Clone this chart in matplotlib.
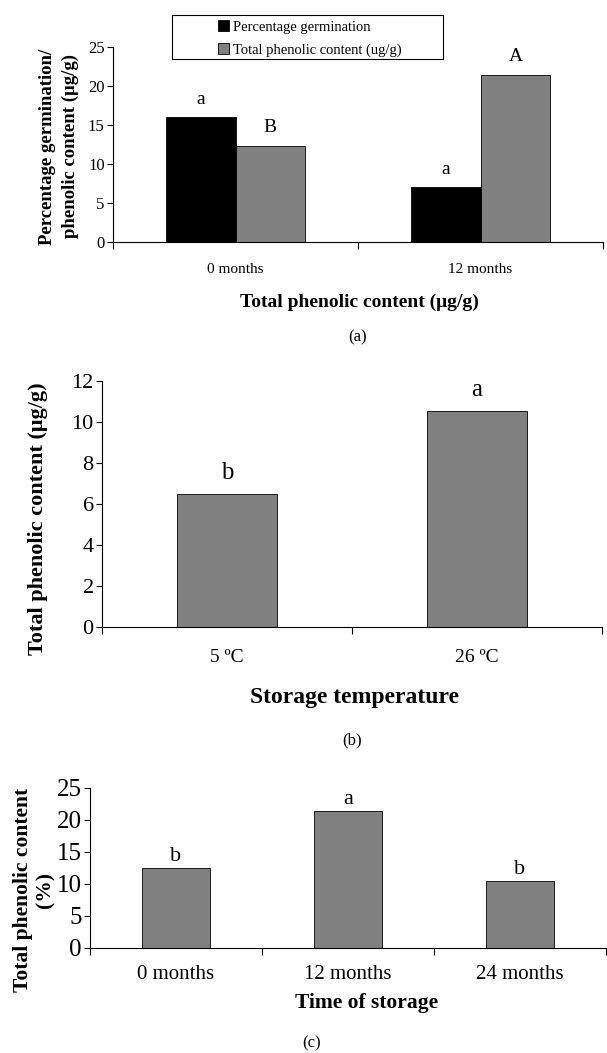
import matplotlib
matplotlib.use("Agg")
import matplotlib.pyplot as plt
import numpy as np
from matplotlib.patches import Patch, Rectangle

plt.rcParams['font.family'] = ['Liberation Serif', 'DejaVu Serif']

# ---- data ----
a_categories = ["0 months", "12 months"]
a_germination = [16.0, 7.0]
a_phenolic = [12.35, 21.45]
a_germ_letters = ["a", "a"]
a_phen_letters = ["B", "A"]
a_series = ["Percentage germination", "Total phenolic content (ug/g)"]

b_categories = ["5 ºC", "26 ºC"]
b_values = [6.5, 10.55]
b_letters = ["b", "a"]

c_categories = ["0 months", "12 months", "24 months"]
c_values = [12.45, 21.45, 10.45]
c_letters = ["b", "a", "b"]

W, H = 607, 1053
fig = plt.figure(figsize=(W / 100, H / 100), dpi=100)
GRAY = "#808080"


def add_ax(l, r, t, b):
    return fig.add_axes([l / W, 1 - b / H, (r - l) / W, (b - t) / H])


def style(ax, n, ylim, yticks, yfs, xfs, xpad):
    ax.set_xlim(-0.5, n - 0.5)
    ax.set_ylim(*ylim)
    ax.set_yticks(yticks)
    ax.spines['top'].set_visible(False)
    ax.spines['right'].set_visible(False)
    ax.spines['left'].set_linewidth(0.8)
    ax.spines['bottom'].set_linewidth(0.8)
    ax.set_xticks(np.arange(n))
    ax.tick_params(axis='x', which='major', length=0, labelsize=xfs, pad=xpad)
    ax.set_xticks(np.arange(n + 1) - 0.5, minor=True)
    ax.tick_params(axis='x', which='minor', length=5, width=0.8, direction='out')
    ax.tick_params(axis='y', length=4, width=0.8, labelsize=yfs, pad=2)


def place_labels(ax, ylx, yly, xlx, xly):
    ax.yaxis.set_label_coords(ylx, yly)
    ax.yaxis.label.set_va('center')
    ax.xaxis.set_label_coords(xlx, xly)
    ax.xaxis.label.set_va('center')


# ---- panel (a) ----
axa = add_ax(113, 603, 47, 242)
x = np.arange(len(a_categories))
bw = 0.285
axa.bar(x - bw / 2, a_germination, bw, color="black", edgecolor="black", linewidth=0.6)
axa.bar(x + bw / 2, a_phenolic, bw, color=GRAY, edgecolor="black", linewidth=0.6)
for i in range(len(x)):
    axa.text(x[i] - bw / 2, a_germination[i] + 2.3, a_germ_letters[i], ha='center', va='center', fontsize=14)
    axa.text(x[i] + bw / 2, a_phenolic[i] + 2.3, a_phen_letters[i], ha='center', va='center', fontsize=14)
style(axa, 2, (0, 25), [0, 5, 10, 15, 20, 25], 12, 11, 15)
axa.set_xticklabels(a_categories)
axa.set_ylabel("Percentage germination/\nphenolic content (μg/g)", fontsize=13.5, fontweight='bold',
               linespacing=1.4)
axa.set_xlabel("Total phenolic content (μg/g)", fontsize=14, fontweight='bold')
place_labels(axa, -0.11, 0.49, 0.502, -0.308)
fig.add_artist(Rectangle((172 / W, 1 - 59 / H), (443 - 172) / W, 44 / H, transform=fig.transFigure,
                         facecolor='white', edgecolor='black', linewidth=0.8))
handles = [Patch(facecolor="black", edgecolor="black", linewidth=0.6),
           Patch(facecolor=GRAY, edgecolor="black", linewidth=0.6)]
leg = fig.legend(handles, a_series, loc='center left',
                 bbox_to_anchor=(218 / W, 1 - 38.5 / H), bbox_transform=fig.transFigure,
                 fontsize=10.5, frameon=False,
                 handlelength=0.75, handleheight=0.75, handletextpad=0.3, borderpad=0,
                 labelspacing=0.62, borderaxespad=0)
fig.text(358 / W, 1 - 337 / H, "(a)", ha='center', va='center', fontsize=12)

# ---- panel (b) ----
axb = add_ax(102, 602, 381, 627)
xb = np.arange(len(b_categories))
axb.bar(xb, b_values, 0.4, color=GRAY, edgecolor="black", linewidth=0.6)
for i in range(len(xb)):
    axb.text(xb[i], b_values[i] + 1.0, b_letters[i], ha='center', va='center', fontsize=18)
style(axb, 2, (0, 12), [0, 2, 4, 6, 8, 10, 12], 16, 14, 16)
axb.set_xticklabels(b_categories)
axb.set_ylabel("Total phenolic content (μg/g)", fontsize=16, fontweight='bold')
axb.set_xlabel("Storage temperature", fontsize=17, fontweight='bold')
place_labels(axb, -0.128, 0.44, 0.504, -0.288)
fig.text(352 / W, 1 - 740 / H, "(b)", ha='center', va='center', fontsize=12)

# ---- panel (c) ----
axc = add_ax(90, 606, 788, 948)
xc = np.arange(len(c_categories))
axc.bar(xc, c_values, 0.4, color=GRAY, edgecolor="black", linewidth=0.6)
for i in range(len(xc)):
    axc.text(xc[i], c_values[i] + 1.8, c_letters[i], ha='center', va='center', fontsize=16)
style(axc, 3, (0, 25), [0, 5, 10, 15, 20, 25], 18, 15, 12)
axc.set_xticklabels(c_categories)
axc.set_ylabel("Total phenolic content\n(%)", fontsize=15.5, fontweight='bold', linespacing=1.15)
axc.set_xlabel("Time of storage", fontsize=15.5, fontweight='bold')
place_labels(axc, -0.108, 0.36, 0.536, -0.344)
fig.text(312 / W, 1 - 1043 / H, "(c)", ha='center', va='center', fontsize=12)

fig.savefig("out.png", dpi=100)
